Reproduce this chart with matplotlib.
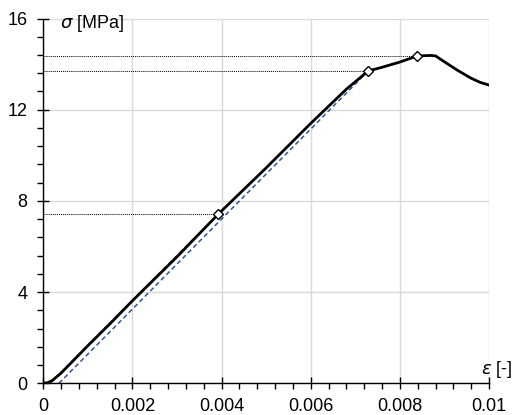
import matplotlib.pyplot as plt
from matplotlib.ticker import MultipleLocator, FuncFormatter

plt.rcParams['font.family'] = ['Liberation Sans', 'DejaVu Sans']

# stress-strain curve
strain = [0, 0.0001, 0.0002, 0.0004, 0.0007, 0.001, 0.0015, 0.002, 0.003, 0.00392,
          0.005, 0.006, 0.0068, 0.00729, 0.0076, 0.008, 0.00839, 0.0087, 0.0088,
          0.009, 0.0093, 0.0096, 0.0098, 0.01]
stress = [0, 0.03, 0.12, 0.45, 1.05, 1.65, 2.62, 3.62, 5.55, 7.41,
          9.45, 11.4, 12.9, 13.7, 13.86, 14.09, 14.36, 14.38, 14.36,
          14.1, 13.72, 13.38, 13.2, 13.08]

# marked points
mark_x = [0.00392, 0.00729, 0.00839]
mark_y = [7.41, 13.7, 14.36]

# secant lines (blue dashed)
sec1_x = [0.00035, 0.00729]
sec1_y = [0, 13.7]
sec2_x = [0.00015, 0.00392]
sec2_y = [0, 7.41]

fig = plt.figure(figsize=(5.12, 4.15), dpi=100)
ax = fig.add_axes([0.0846, 0.0764, 0.8705, 0.879])

ax.grid(True, which='major', color='#d9d9d9', linewidth=1.0)
ax.set_axisbelow(True)

for mx, my in zip(mark_x, mark_y):
    ax.plot([0, mx], [my, my], color='black', linestyle=(0, (1, 1)), linewidth=0.7)

ax.plot(sec2_x, sec2_y, color='#2f5597', linestyle=(0, (3, 2)), linewidth=1.1)
ax.plot(sec1_x, sec1_y, color='#2f5597', linestyle=(0, (3, 2)), linewidth=1.1)
ax.plot(strain, stress, color='black', linewidth=2.0)
ax.plot(mark_x, mark_y, linestyle='none', marker='D', markersize=5.5,
        markerfacecolor='white', markeredgecolor='black', markeredgewidth=1.0)

ax.set_xlim(0, 0.01)
ax.set_ylim(0, 16)
ax.xaxis.set_major_locator(MultipleLocator(0.002))
ax.xaxis.set_minor_locator(MultipleLocator(0.0004))
ax.yaxis.set_major_locator(MultipleLocator(4))
ax.yaxis.set_minor_locator(MultipleLocator(0.8))
ax.xaxis.set_major_formatter(FuncFormatter(lambda v, p: '%g' % round(v, 6)))

ax.tick_params(which='major', direction='inout', length=9, width=1, labelsize=13)
ax.tick_params(which='minor', direction='out', length=4.5, width=1)
ax.tick_params(axis='x', which='major', pad=6)
ax.tick_params(axis='y', which='major', pad=7)

for s in ['top', 'right']:
    ax.spines[s].set_visible(False)
for s in ['left', 'bottom']:
    ax.spines[s].set_linewidth(1.0)

ax.text(0.00037, 15.76, r'$\sigma$ [MPa]', fontsize=13, va='center', ha='left')
ax.text(0.01018, 0.6, r'$\varepsilon$ [-]', fontsize=13, va='center', ha='center')

fig.savefig('out.png', dpi=100)
